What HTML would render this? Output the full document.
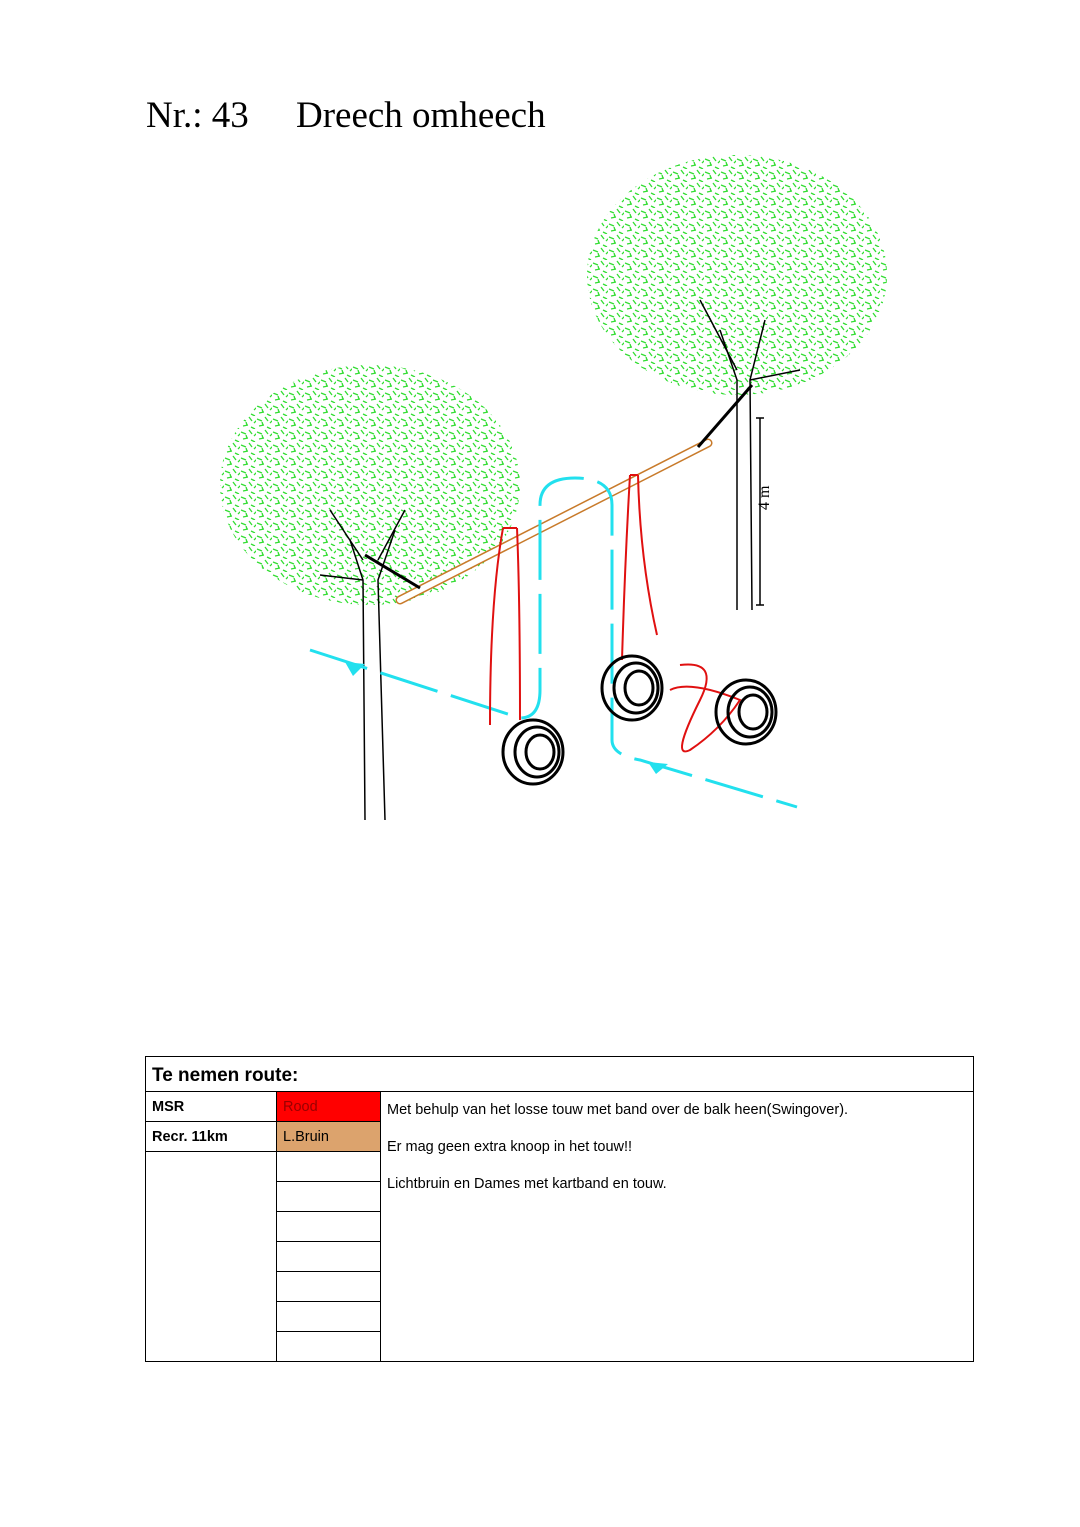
<!DOCTYPE html>
<html><head><meta charset="utf-8"><style>
body{margin:0;background:#fff;width:1080px;height:1527px;position:relative;overflow:hidden;font-family:"Liberation Sans",sans-serif}
.t{position:absolute;font-family:"Liberation Serif",serif;font-size:37px;top:94px}
table{position:absolute;left:145px;top:1056px;width:829px;border-collapse:collapse;font-family:"Liberation Sans",sans-serif;font-size:14.5px}
td{border:1px solid #000;padding:0 6px;height:29px;vertical-align:middle}
</style></head><body>
<div class="t" style="left:146px">Nr.: 43</div>
<div class="t" style="left:296px">Dreech omheech</div>
<svg width="1080" height="900" style="position:absolute;left:0;top:0">
<defs>
<pattern id="lf" width="16" height="13" patternUnits="userSpaceOnUse">
<path d="M1 3l5 2M9 1l3 4M14 7l3-3M3 10l5-1M11 11l4 2M6 6l1 3" stroke="#33dd33" stroke-width="1.3" fill="none"/>
</pattern>
</defs>
<ellipse cx="370" cy="485" rx="150" ry="120" fill="url(#lf)"/>
<ellipse cx="737" cy="275" rx="150" ry="120" fill="url(#lf)"/>
<g stroke="#000" stroke-width="1.5" fill="none">
<path d="M365 820 L363 580 L350 540 M385 820 L378 580 L395 530"/>
<path d="M363 560 L330 510 M378 560 L405 510 M363 580 L320 575"/>
<path d="M737 610 L737 380 L720 330 M752 610 L750 380 L765 320"/>
<path d="M737 370 L700 300 M750 380 L800 370"/>
<path d="M760 418 L760 605 M756 418h8 M756 605h8"/>
</g>
<text x="754" y="525" font-family="Liberation Serif" font-size="16" transform="rotate(-90 754 510)">4 m</text>
<path d="M400 600 L708 443" stroke="#c87a2a" stroke-width="9" stroke-linecap="round"/>
<path d="M400 600 L708 443" stroke="#fff" stroke-width="6" stroke-linecap="round"/>
<path d="M365 555 L420 588 M698 447 L752 385" stroke="#000" stroke-width="3"/>
<g stroke="#22e0ee" stroke-width="3" fill="none" stroke-dasharray="60 14">
<path d="M310 650 L520 718 Q540 718 540 690 L540 505 Q540 478 575 478 Q612 478 612 505 L612 740 Q612 755 640 760 L797 807"/>
</g>
<path d="M345 662l20 2-12 12z M648 762l20 2-12 10z" fill="#22e0ee"/>
<g stroke="#e01010" stroke-width="2" fill="none">
<path d="M503 528 Q490 600 490 725 M517 528 Q520 600 520 720 M503 528h14"/>
<path d="M630 475 Q625 560 622 660 M638 475 Q640 560 657 635 M630 475h8"/>
<path d="M680 665 Q720 660 700 700 Q670 760 690 750 Q720 730 740 700 Q690 680 670 690"/>
</g>
<g stroke="#000" stroke-width="3" fill="none">
<ellipse cx="533" cy="752" rx="30" ry="32"/><ellipse cx="537" cy="752" rx="22" ry="25"/><ellipse cx="540" cy="752" rx="14" ry="17"/>
<ellipse cx="632" cy="688" rx="30" ry="32"/><ellipse cx="636" cy="688" rx="22" ry="25"/><ellipse cx="639" cy="688" rx="14" ry="17"/>
<ellipse cx="746" cy="712" rx="30" ry="32"/><ellipse cx="750" cy="712" rx="22" ry="25"/><ellipse cx="753" cy="712" rx="14" ry="17"/>
</g>
</svg>
<table>
<tr><td colspan="3" style="height:30px;font-size:19px;font-weight:bold;padding-top:4px;border-bottom:1px solid #000">Te nemen route:</td></tr>
<tr><td style="width:118px;font-weight:bold">MSR</td><td style="width:91px;background:#ff0000;color:#900">Rood</td><td rowspan="9" style="vertical-align:top;padding-top:0;line-height:37px">Met behulp van het losse touw met band over de balk heen(Swingover).<br>Er mag geen extra knoop in het touw!!<br>Lichtbruin en Dames met kartband en touw.</td></tr>
<tr><td style="font-weight:bold">Recr. 11km</td><td style="background:#dca36d">L.Bruin</td></tr>
<tr><td rowspan="7" style="border-top:1px solid #000"></td><td></td></tr>
<tr><td></td></tr><tr><td></td></tr><tr><td></td></tr><tr><td></td></tr><tr><td></td></tr><tr><td></td></tr>
</table>
</body></html>
